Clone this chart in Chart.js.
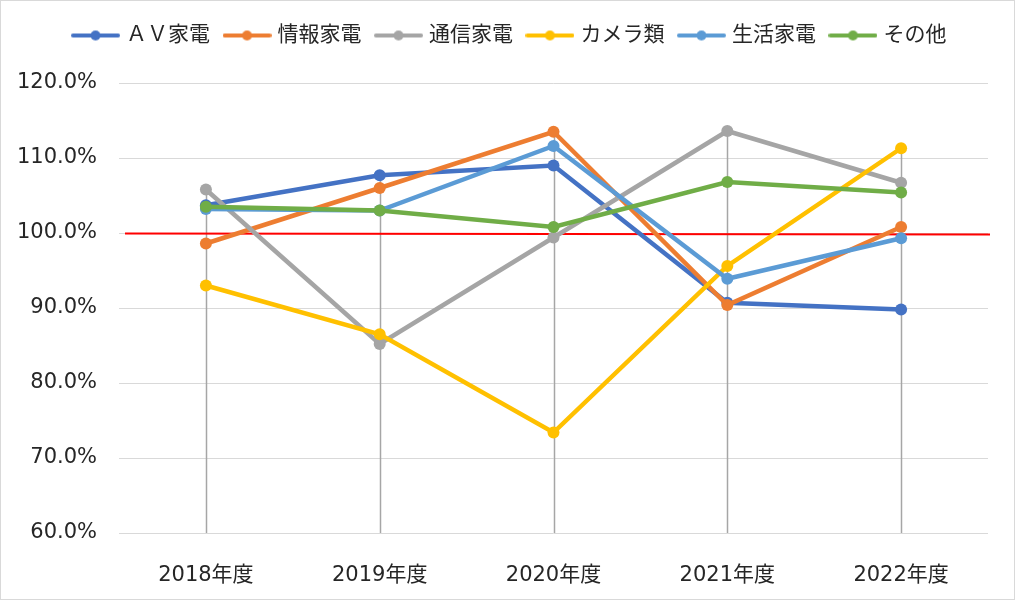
<!DOCTYPE html>
<html><head><meta charset="utf-8">
<script src="https://cdn.jsdelivr.net/npm/chart.js@4"></script>
<style>html,body{margin:0;padding:0;background:#fff}canvas{display:block}</style>
</head><body>
<canvas id="c" width="1015" height="600"></canvas>
<script>
const categories = ['2018年度','2019年度','2020年度','2021年度','2022年度'];
const seriesNames = ['ＡＶ家電','情報家電','通信家電','カメラ類','生活家電','その他'];
const avData      = [103.7, 107.7, 109.0, 90.7, 89.8];
const infoData    = [98.6, 106.0, 113.5, 90.4, 100.8];
const commData    = [105.8, 85.2, 99.4, 113.6, 106.7];
const cameraData  = [93.0, 86.5, 73.4, 95.6, 111.3];
const lifeData    = [103.2, 103.0, 111.6, 93.9, 99.3];
const otherData   = [103.5, 103.0, 100.8, 106.8, 105.4];
const yTicks = [60, 70, 80, 90, 100, 110, 120];
const referenceValue = 100;

const seriesData = [avData, infoData, commData, cameraData, lifeData, otherData];
const colors = ['#4472C4','#ED7D31','#A5A5A5','#FFC000','#5B9BD5','#70AD47'];
const FONT = '"DejaVu Sans", "Noto Sans CJK JP", sans-serif';

function legendIcon(color){
  const cv = document.createElement('canvas');
  cv.width = 49; cv.height = 14;
  const g = cv.getContext('2d');
  g.strokeStyle = color; g.lineWidth = 4; g.lineCap='round';
  g.beginPath(); g.moveTo(2,7); g.lineTo(47,7); g.stroke();
  g.fillStyle = color; g.beginPath(); g.arc(24.5,7,5,0,Math.PI*2); g.fill();
  return cv;
}
const icons = colors.map(legendIcon);

const datasets = seriesNames.map((n,i)=>({
  label: n,
  data: seriesData[i],
  xAxisID: 'x',
  yAxisID: 'y',
  borderColor: colors[i],
  backgroundColor: colors[i],
  borderWidth: 4.5,
  pointRadius: 6,
  pointHoverRadius: 6,
  pointBorderWidth: 0,
  tension: 0,
  order: seriesNames.length - i
}));

const bgPlugin = {
  id: 'bg',
  afterLayout(chart){
    const lg = chart.legend;
    if (lg) { lg.left += 17; lg.right += 17; }
  },
  beforeDraw(chart){
    const ctx = chart.ctx;
    ctx.save();
    ctx.fillStyle = '#fff'; ctx.fillRect(0,0,chart.width,chart.height);
    ctx.strokeStyle = '#D9D9D9'; ctx.lineWidth = 1;
    ctx.strokeRect(0.5,0.5,chart.width-1,chart.height-1);
    ctx.restore();
  },
  beforeDatasetsDraw(chart){
    const {ctx, scales:{x,y}, chartArea} = chart;
    ctx.save();
    ctx.strokeStyle = '#A6A6A6'; ctx.lineWidth = 1.5;
    categories.forEach((c,i)=>{
      const mx = Math.max(...seriesData.map(s=>s[i]));
      const px = Math.round(x.getPixelForValue(i))+0.5;
      ctx.beginPath();
      ctx.moveTo(px, y.getPixelForValue(yTicks[0]));
      ctx.lineTo(px, y.getPixelForValue(mx));
      ctx.stroke();
    });
    const ry = y.getPixelForValue(referenceValue)+0.5;
    ctx.strokeStyle = '#FF0000'; ctx.lineWidth = 2;
    ctx.beginPath(); ctx.moveTo(chartArea.left+6, ry); ctx.lineTo(chartArea.right+2, ry+1); ctx.stroke();
    ctx.restore();
  }
};

new Chart(document.getElementById('c'), {
  type: 'line',
  data: { labels: categories, datasets },
  options: {
    responsive: false,
    animation: false,
    devicePixelRatio: 1,
    layout: { padding: { top: 8, right: 27, bottom: 0, left: 0 } },
    plugins: {
      tooltip: { enabled: false },
      legend: {
        position: 'top',
        labels: {
          usePointStyle: true,
          pointStyleWidth: 40,
          padding: 17,
          color: '#262626',
          font: { family: FONT, size: 21 },
          generateLabels(chart){
            return chart.data.datasets.map((d,i)=>({
              text: d.label, pointStyle: icons[i], fillStyle: colors[i],
              strokeStyle: colors[i], lineWidth: 0, hidden: false, datasetIndex: i, fontColor: '#262626'
            }));
          }
        }
      }
    },
    scales: {
      xTop: {
        type: 'category', position: 'top', labels: categories,
        grid: { display: false }, border: { display: false }, ticks: { display: false },
        afterFit(s){ s.height = 27; }
      },
      x: {
        offset: true,
        grid: { display: false },
        border: { display: false },
        ticks: { color: '#262626', font: { family: FONT, size: 21 }, padding: 22, maxRotation: 0 },
        afterFit(s){ s.height = 67; }
      },
      y: {
        min: 60, max: 120,
        afterBuildTicks(s){ s.ticks = yTicks.map(v=>({value:v})); },
        grid: { color: '#D9D9D9', lineWidth: 1, drawTicks: false },
        border: { display: false },
        ticks: { color: '#262626', font: { family: FONT, size: 21 }, padding: 22,
                 callback: v => Number(v).toFixed(1) + '%' },
        afterFit(s){ s.width = 119; }
      }
    }
  },
  plugins: [bgPlugin]
});
</script>
</body></html>
